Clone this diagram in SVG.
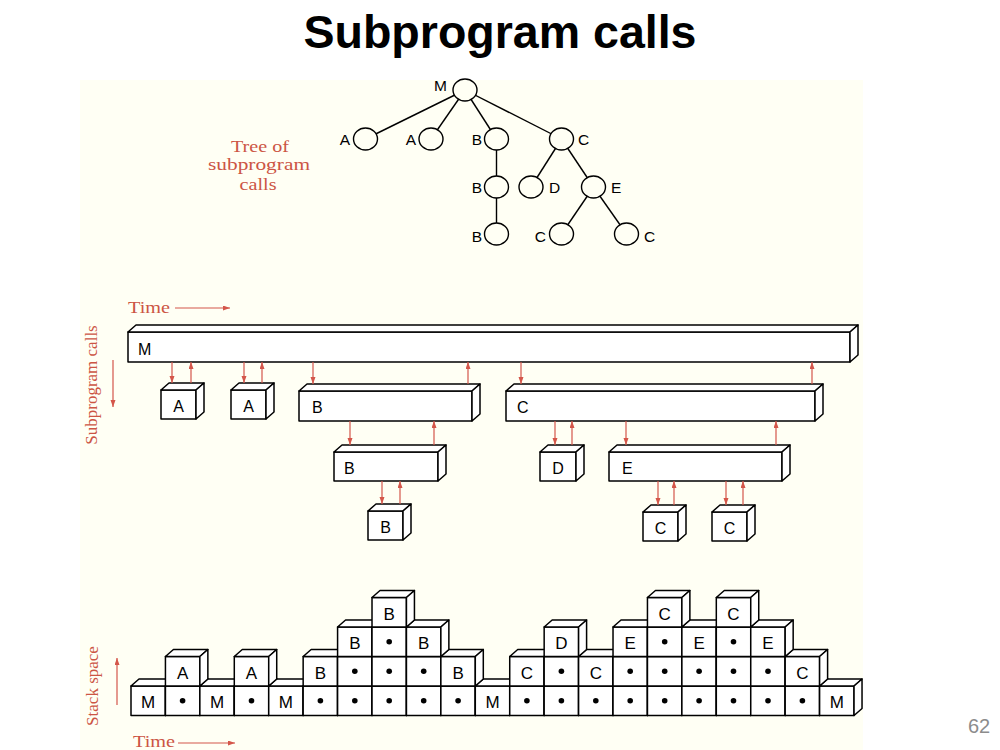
<svg xmlns="http://www.w3.org/2000/svg" width="1000" height="750" viewBox="0 0 1000 750">
<style>
.bx{fill:#fff;stroke:#000;stroke-width:1.5;stroke-linejoin:round}
.tl{stroke:#000;stroke-width:1.4;fill:none}
.tn{fill:#fffff4;stroke:#000;stroke-width:1.4}
.lb{font-family:"Liberation Sans",Arial,sans-serif;fill:#000}
.t14{font-size:15.5px}
.t16{font-size:16px}
.t17{font-size:17px}
.mid{text-anchor:middle}
.end{text-anchor:end}
.rd{font-family:"Liberation Serif","Times New Roman",serif;font-size:17px;fill:#cc5544}
.ar{stroke:#d4564a;stroke-width:1.2;fill:none;marker-end:url(#ah)}
.dot{fill:#000}
</style>
<defs>
<marker id="ah" markerUnits="userSpaceOnUse" markerWidth="8" markerHeight="6" refX="7" refY="2.5" orient="auto">
<path d="M0,0 L7,2.5 L0,5 Z" fill="#d4564a"/>
</marker>
<g id="cube" class="bx">
<rect width="34.43" height="29.5"/>
<path d="M0,0 L8,-7 L42.43,-7 L34.43,0 Z"/>
<path d="M34.43,0 L42.43,-7 L42.43,22.5 L34.43,29.5 Z"/>
</g>
</defs>
<rect width="1000" height="750" fill="#fff"/>
<rect x="80" y="80" width="783" height="670" fill="#fffff4"/>
<text x="500" y="48" text-anchor="middle" font-family="Liberation Sans,Arial,sans-serif" font-weight="bold" font-size="46" textLength="393" lengthAdjust="spacingAndGlyphs">Subprogram calls</text>
<text x="968" y="733" font-family="Liberation Sans,Arial,sans-serif" font-size="20" fill="#8c8c8c">62</text>

<!-- Tree -->
<g id="tree-caption">
<text class="rd mid" x="260" y="152" textLength="58" lengthAdjust="spacingAndGlyphs">Tree of</text>
<text class="rd mid" x="259" y="170" textLength="102" lengthAdjust="spacingAndGlyphs">subprogram</text>
<text class="rd mid" x="258" y="190" textLength="37" lengthAdjust="spacingAndGlyphs">calls</text>
</g>
<g id="tree-edges">
<line class="tl" x1="465" y1="90" x2="365.5" y2="139"/>
<line class="tl" x1="465" y1="90" x2="431" y2="139"/>
<line class="tl" x1="465" y1="90" x2="496.5" y2="139"/>
<line class="tl" x1="465" y1="90" x2="561.5" y2="139"/>
<line class="tl" x1="496.5" y1="139" x2="496.5" y2="234"/>
<line class="tl" x1="561.5" y1="139" x2="531" y2="187"/>
<line class="tl" x1="561.5" y1="139" x2="593.5" y2="187"/>
<line class="tl" x1="593.5" y1="187" x2="561.5" y2="234"/>
<line class="tl" x1="593.5" y1="187" x2="626.5" y2="234"/>
</g>
<g id="t-M"><ellipse class="tn" cx="465" cy="90" rx="12" ry="11"/><text class="lb t14 end" x="447" y="91">M</text></g>
<g id="t-A1"><ellipse class="tn" cx="365.5" cy="139" rx="12" ry="11"/><text class="lb t14 end" x="350" y="145">A</text></g>
<g id="t-A2"><ellipse class="tn" cx="431" cy="139" rx="12" ry="11"/><text class="lb t14 end" x="416" y="145">A</text></g>
<g id="t-B1"><ellipse class="tn" cx="496.5" cy="139" rx="12" ry="11"/><text class="lb t14 end" x="482" y="145">B</text></g>
<g id="t-C1"><ellipse class="tn" cx="561.5" cy="139" rx="12" ry="11"/><text class="lb t14" x="578" y="145">C</text></g>
<g id="t-B2"><ellipse class="tn" cx="496.5" cy="187" rx="12" ry="11"/><text class="lb t14 end" x="482" y="192.5">B</text></g>
<g id="t-D"><ellipse class="tn" cx="531" cy="187" rx="12" ry="11"/><text class="lb t14" x="549" y="192.5">D</text></g>
<g id="t-E"><ellipse class="tn" cx="593.5" cy="187" rx="12" ry="11"/><text class="lb t14" x="611" y="192.5">E</text></g>
<g id="t-B3"><ellipse class="tn" cx="496.5" cy="234" rx="12" ry="11"/><text class="lb t14 end" x="482" y="242">B</text></g>
<g id="t-C2"><ellipse class="tn" cx="561.5" cy="234" rx="12" ry="11"/><text class="lb t14 end" x="546" y="242">C</text></g>
<g id="t-C3"><ellipse class="tn" cx="626.5" cy="234" rx="12" ry="11"/><text class="lb t14" x="644" y="242">C</text></g>

<!-- Middle: call timeline -->
<g id="mid-labels">
<text class="rd" x="128" y="313" textLength="42" lengthAdjust="spacingAndGlyphs">Time</text>
<text class="rd mid" transform="translate(97,385) rotate(-90)">Subprogram calls</text>
</g>
<g id="b-M" class="bx"><rect x="128" y="332" width="722" height="30"/><path d="M128,332 L136,325 L858,325 L850,332 Z"/><path d="M850,332 L858,325 L858,355 L850,362 Z"/><text class="lb t16" x="138" y="355" stroke="none">M</text></g>
<g id="b-A1" class="bx"><rect x="161" y="390" width="35" height="29"/><path d="M161,390 L169,383 L204,383 L196,390 Z"/><path d="M196,390 L204,383 L204,412 L196,419 Z"/><text class="lb t16 mid" x="178.5" y="412" stroke="none">A</text></g>
<g id="b-A2" class="bx"><rect x="231" y="390" width="35" height="29"/><path d="M231,390 L239,383 L274,383 L266,390 Z"/><path d="M266,390 L274,383 L274,412 L266,419 Z"/><text class="lb t16 mid" x="248.5" y="412" stroke="none">A</text></g>
<g id="b-B1" class="bx"><rect x="299" y="391" width="173" height="30"/><path d="M299,391 L307,384 L480,384 L472,391 Z"/><path d="M472,391 L480,384 L480,414 L472,421 Z"/><text class="lb t16" x="312" y="413" stroke="none">B</text></g>
<g id="b-C1" class="bx"><rect x="506" y="391" width="309" height="30"/><path d="M506,391 L514,384 L823,384 L815,391 Z"/><path d="M815,391 L823,384 L823,414 L815,421 Z"/><text class="lb t16" x="517" y="413" stroke="none">C</text></g>
<g id="b-B2" class="bx"><rect x="334" y="452" width="104" height="29"/><path d="M334,452 L342,445 L446,445 L438,452 Z"/><path d="M438,452 L446,445 L446,474 L438,481 Z"/><text class="lb t16" x="344" y="474" stroke="none">B</text></g>
<g id="b-D" class="bx"><rect x="540" y="452" width="36" height="29"/><path d="M540,452 L548,445 L584,445 L576,452 Z"/><path d="M576,452 L584,445 L584,474 L576,481 Z"/><text class="lb t16 mid" x="558" y="474" stroke="none">D</text></g>
<g id="b-E" class="bx"><rect x="609" y="452" width="173" height="29"/><path d="M609,452 L617,445 L790,445 L782,452 Z"/><path d="M782,452 L790,445 L790,474 L782,481 Z"/><text class="lb t16" x="622" y="474" stroke="none">E</text></g>
<g id="b-B3" class="bx"><rect x="368" y="511" width="35" height="29"/><path d="M368,511 L376,504 L411,504 L403,511 Z"/><path d="M403,511 L411,504 L411,533 L403,540 Z"/><text class="lb t16 mid" x="385.5" y="533" stroke="none">B</text></g>
<g id="b-Ca" class="bx"><rect x="643" y="512" width="35" height="29"/><path d="M643,512 L651,505 L686,505 L678,512 Z"/><path d="M678,512 L686,505 L686,534 L678,541 Z"/><text class="lb t16 mid" x="660.5" y="534" stroke="none">C</text></g>
<g id="b-Cb" class="bx"><rect x="712" y="512" width="35" height="29"/><path d="M712,512 L720,505 L755,505 L747,512 Z"/><path d="M747,512 L755,505 L755,534 L747,541 Z"/><text class="lb t16 mid" x="729.5" y="534" stroke="none">C</text></g>

<g id="connectors">
<line class="ar" x1="175" y1="308" x2="230" y2="308"/>
<line class="ar" x1="113" y1="360" x2="113" y2="407"/>
<line class="ar" x1="172" y1="362" x2="172" y2="383"/>
<line class="ar" x1="191" y1="383" x2="191" y2="362"/>
<line class="ar" x1="244" y1="362" x2="244" y2="383"/>
<line class="ar" x1="262" y1="383" x2="262" y2="362"/>
<line class="ar" x1="313" y1="362" x2="313" y2="384"/>
<line class="ar" x1="468" y1="384" x2="468" y2="362"/>
<line class="ar" x1="521" y1="362" x2="521" y2="384"/>
<line class="ar" x1="812" y1="384" x2="812" y2="362"/>
<line class="ar" x1="350" y1="421" x2="350" y2="445"/>
<line class="ar" x1="434" y1="445" x2="434" y2="421"/>
<line class="ar" x1="382" y1="481" x2="382" y2="504"/>
<line class="ar" x1="400" y1="504" x2="400" y2="481"/>
<line class="ar" x1="555" y1="421" x2="555" y2="445"/>
<line class="ar" x1="572" y1="445" x2="572" y2="421"/>
<line class="ar" x1="626" y1="421" x2="626" y2="445"/>
<line class="ar" x1="776" y1="445" x2="776" y2="421"/>
<line class="ar" x1="658" y1="481" x2="658" y2="505"/>
<line class="ar" x1="674" y1="505" x2="674" y2="481"/>
<line class="ar" x1="726" y1="481" x2="726" y2="505"/>
<line class="ar" x1="743" y1="505" x2="743" y2="481"/>
<line class="ar" x1="117" y1="705" x2="117" y2="658"/>
<line class="ar" x1="178" y1="743" x2="235" y2="743"/>
</g>

<!-- Bottom: stack space -->
<g id="stack-labels">
<text class="rd mid" transform="translate(98,686) rotate(-90)">Stack space</text>
<text class="rd" x="133" y="747" textLength="42" lengthAdjust="spacingAndGlyphs">Time</text>
</g>
<g id="stack">
<g id="s0-0"><use href="#cube" x="131" y="686"/><text class="lb t17 mid" x="148.2" y="708">M</text></g>
<g id="s1-0"><use href="#cube" x="165.43" y="686"/><circle class="dot" cx="182.6" cy="700.75" r="2.8"/></g>
<g id="s2-0"><use href="#cube" x="199.86" y="686"/><text class="lb t17 mid" x="217.1" y="708">M</text></g>
<g id="s3-0"><use href="#cube" x="234.29" y="686"/><circle class="dot" cx="251.5" cy="700.75" r="2.8"/></g>
<g id="s4-0"><use href="#cube" x="268.72" y="686"/><text class="lb t17 mid" x="285.9" y="708">M</text></g>
<g id="s5-0"><use href="#cube" x="303.15" y="686"/><circle class="dot" cx="320.4" cy="700.75" r="2.8"/></g>
<g id="s6-0"><use href="#cube" x="337.58" y="686"/><circle class="dot" cx="354.8" cy="700.75" r="2.8"/></g>
<g id="s7-0"><use href="#cube" x="372.01" y="686"/><circle class="dot" cx="389.2" cy="700.75" r="2.8"/></g>
<g id="s8-0"><use href="#cube" x="406.44" y="686"/><circle class="dot" cx="423.7" cy="700.75" r="2.8"/></g>
<g id="s9-0"><use href="#cube" x="440.87" y="686"/><circle class="dot" cx="458.1" cy="700.75" r="2.8"/></g>
<g id="s10-0"><use href="#cube" x="475.3" y="686"/><text class="lb t17 mid" x="492.5" y="708">M</text></g>
<g id="s11-0"><use href="#cube" x="509.73" y="686"/><circle class="dot" cx="526.9" cy="700.75" r="2.8"/></g>
<g id="s12-0"><use href="#cube" x="544.16" y="686"/><circle class="dot" cx="561.4" cy="700.75" r="2.8"/></g>
<g id="s13-0"><use href="#cube" x="578.59" y="686"/><circle class="dot" cx="595.8" cy="700.75" r="2.8"/></g>
<g id="s14-0"><use href="#cube" x="613.02" y="686"/><circle class="dot" cx="630.2" cy="700.75" r="2.8"/></g>
<g id="s15-0"><use href="#cube" x="647.45" y="686"/><circle class="dot" cx="664.7" cy="700.75" r="2.8"/></g>
<g id="s16-0"><use href="#cube" x="681.88" y="686"/><circle class="dot" cx="699.1" cy="700.75" r="2.8"/></g>
<g id="s17-0"><use href="#cube" x="716.31" y="686"/><circle class="dot" cx="733.5" cy="700.75" r="2.8"/></g>
<g id="s18-0"><use href="#cube" x="750.74" y="686"/><circle class="dot" cx="768" cy="700.75" r="2.8"/></g>
<g id="s19-0"><use href="#cube" x="785.17" y="686"/><circle class="dot" cx="802.4" cy="700.75" r="2.8"/></g>
<g id="s20-0"><use href="#cube" x="819.6" y="686"/><text class="lb t17 mid" x="836.8" y="708">M</text></g>

<g id="s1-1"><use href="#cube" x="165.43" y="656.5"/><text class="lb t17 mid" x="182.6" y="678.5">A</text></g>
<g id="s3-1"><use href="#cube" x="234.29" y="656.5"/><text class="lb t17 mid" x="251.5" y="678.5">A</text></g>
<g id="s5-1"><use href="#cube" x="303.15" y="656.5"/><text class="lb t17 mid" x="320.4" y="678.5">B</text></g>
<g id="s6-1"><use href="#cube" x="337.58" y="656.5"/><circle class="dot" cx="354.8" cy="671.25" r="2.8"/></g>
<g id="s7-1"><use href="#cube" x="372.01" y="656.5"/><circle class="dot" cx="389.2" cy="671.25" r="2.8"/></g>
<g id="s8-1"><use href="#cube" x="406.44" y="656.5"/><circle class="dot" cx="423.7" cy="671.25" r="2.8"/></g>
<g id="s9-1"><use href="#cube" x="440.87" y="656.5"/><text class="lb t17 mid" x="458.1" y="678.5">B</text></g>
<g id="s11-1"><use href="#cube" x="509.73" y="656.5"/><text class="lb t17 mid" x="526.9" y="678.5">C</text></g>
<g id="s12-1"><use href="#cube" x="544.16" y="656.5"/><circle class="dot" cx="561.4" cy="671.25" r="2.8"/></g>
<g id="s13-1"><use href="#cube" x="578.59" y="656.5"/><text class="lb t17 mid" x="595.8" y="678.5">C</text></g>
<g id="s14-1"><use href="#cube" x="613.02" y="656.5"/><circle class="dot" cx="630.2" cy="671.25" r="2.8"/></g>
<g id="s15-1"><use href="#cube" x="647.45" y="656.5"/><circle class="dot" cx="664.7" cy="671.25" r="2.8"/></g>
<g id="s16-1"><use href="#cube" x="681.88" y="656.5"/><circle class="dot" cx="699.1" cy="671.25" r="2.8"/></g>
<g id="s17-1"><use href="#cube" x="716.31" y="656.5"/><circle class="dot" cx="733.5" cy="671.25" r="2.8"/></g>
<g id="s18-1"><use href="#cube" x="750.74" y="656.5"/><circle class="dot" cx="768" cy="671.25" r="2.8"/></g>
<g id="s19-1"><use href="#cube" x="785.17" y="656.5"/><text class="lb t17 mid" x="802.4" y="678.5">C</text></g>

<g id="s6-2"><use href="#cube" x="337.58" y="627"/><text class="lb t17 mid" x="354.8" y="649">B</text></g>
<g id="s7-2"><use href="#cube" x="372.01" y="627"/><circle class="dot" cx="389.2" cy="641.75" r="2.8"/></g>
<g id="s8-2"><use href="#cube" x="406.44" y="627"/><text class="lb t17 mid" x="423.7" y="649">B</text></g>
<g id="s12-2"><use href="#cube" x="544.16" y="627"/><text class="lb t17 mid" x="561.4" y="649">D</text></g>
<g id="s14-2"><use href="#cube" x="613.02" y="627"/><text class="lb t17 mid" x="630.2" y="649">E</text></g>
<g id="s15-2"><use href="#cube" x="647.45" y="627"/><circle class="dot" cx="664.7" cy="641.75" r="2.8"/></g>
<g id="s16-2"><use href="#cube" x="681.88" y="627"/><text class="lb t17 mid" x="699.1" y="649">E</text></g>
<g id="s17-2"><use href="#cube" x="716.31" y="627"/><circle class="dot" cx="733.5" cy="641.75" r="2.8"/></g>
<g id="s18-2"><use href="#cube" x="750.74" y="627"/><text class="lb t17 mid" x="768" y="649">E</text></g>

<g id="s7-3"><use href="#cube" x="372.01" y="597.5"/><text class="lb t17 mid" x="389.2" y="619.5">B</text></g>
<g id="s15-3"><use href="#cube" x="647.45" y="597.5"/><text class="lb t17 mid" x="664.7" y="619.5">C</text></g>
<g id="s17-3"><use href="#cube" x="716.31" y="597.5"/><text class="lb t17 mid" x="733.5" y="619.5">C</text></g>
</g>
</svg>
